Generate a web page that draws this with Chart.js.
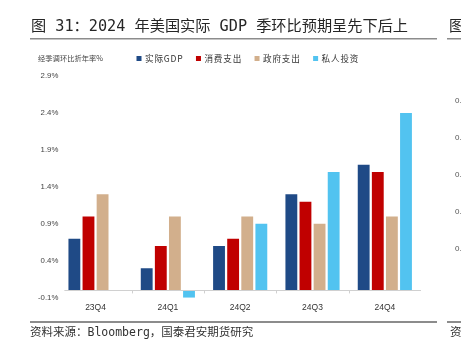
<!DOCTYPE html>
<html><head><meta charset="utf-8">
<script src="https://cdn.jsdelivr.net/npm/chart.js@4/dist/chart.umd.min.js"></script>
<style>
html,body{margin:0;padding:0;background:#fff;}
#wrap{position:relative;width:461px;height:355px;overflow:hidden;background:#fff;}
#c{position:absolute;left:0;top:0;}
</style></head><body>
<div id="wrap">
<canvas id="c" width="461" height="355"></canvas>
</div>
<script>
const categories = ['23Q4','24Q1','24Q2','24Q3','24Q4'];
const gdp = [0.7, 0.3, 0.6, 1.3, 1.7];
const consumption = [1.0, 0.6, 0.7, 1.2, 1.6];
const government = [1.3, 1.0, 1.0, 0.9, 1.0];
const investment = [null, -0.1, 0.9, 1.6, 2.4];
const seriesNames = ['实际GDP','消费支出','政府支出','私人投资'];
const yTicks = [-0.1, 0.4, 0.9, 1.4, 1.9, 2.4, 2.9];
const titleText = '图 31：2024 年美国实际 GDP 季环比预期呈先下后上';
const unitText = '经季调环比折年率%';
const sourceText = '资料来源：Bloomberg，国泰君安期货研究';

const colors = ['#1F4A86','#C00000','#D2AF8C','#52C3F0'];
const CJK = '"DejaVu Sans Mono","Noto Sans CJK SC",sans-serif';

const decor = {
  id:'decor',
  beforeDraw(chart){
    const c = chart.ctx;
    c.save();
    c.fillStyle='#fff'; c.fillRect(0,0,chart.width,chart.height);
    c.restore();
  },
  afterDraw(chart){
    const c = chart.ctx;
    const y = chart.scales.y, x = chart.scales.x;
    c.save();
    // title
    c.fillStyle='#262626';
    c.font='15.2px '+CJK;
    c.textBaseline='middle';
    c.fillText(titleText, 31, 27);
    c.fillText('图', 449, 27);
    // title underline
    c.fillStyle='#8c8c8c';
    c.fillRect(30,38,407,1.5);
    c.fillRect(447,38,20,1.5);
    // unit label
    c.fillStyle='#444';
    c.font='7.3px "Noto Sans CJK SC",sans-serif';
    c.fillText(unitText, 38, 58);
    // legend (from dataset labels/colours)
    c.font='8.6px "Noto Sans CJK SC",sans-serif';
    if ('letterSpacing' in c) c.letterSpacing = '0.8px';
    let lx = 136.5;
    chart.data.datasets.forEach(ds=>{
      c.fillStyle = ds.backgroundColor;
      c.fillRect(lx, 56, 5, 5);
      c.fillStyle = '#333';
      c.fillText(ds.label, lx+8.5, 58.5);
      lx += 8.5 + c.measureText(ds.label).width + 12.5;
    });
    if ('letterSpacing' in c) c.letterSpacing = '0px';
    // zero line
    const z = y.getPixelForValue(0);
    c.strokeStyle='#d0d0d0'; c.lineWidth=1;
    c.beginPath(); c.moveTo(x.left+5, Math.round(z)+0.5); c.lineTo(x.right, Math.round(z)+0.5); c.stroke();
    // small ticks at category boundaries
    for(let i=1;i<categories.length;i++){
      const bx = Math.round((x.getPixelForValue(i-1)+x.getPixelForValue(i))/2)+0.5;
      c.beginPath(); c.moveTo(bx, z); c.lineTo(bx, z+3); c.stroke();
    }
    // footer line
    c.fillStyle='#8c8c8c';
    c.fillRect(30,321,407,2);
    c.fillRect(447,321,20,2);
    // footer text
    c.fillStyle='#333';
    c.font='11.5px '+CJK;
    c.fillText(sourceText, 30, 333);
    c.fillText('资', 450, 333);
    // partial next chart labels
    c.fillStyle='#555';
    c.font='8px "Liberation Sans",sans-serif';
    ['0.','0.','0.','0.','0.'].forEach((t,i)=>c.fillText(t,455,101+i*37));
    c.restore();
  }
};

new Chart(document.getElementById('c'), {
  type:'bar',
  data:{
    labels:categories,
    datasets:[
      {label:seriesNames[0], data:gdp, backgroundColor:colors[0]},
      {label:seriesNames[1], data:consumption, backgroundColor:colors[1]},
      {label:seriesNames[2], data:government, backgroundColor:colors[2]},
      {label:seriesNames[3], data:investment, backgroundColor:colors[3]}
    ]
  },
  options:{
    responsive:false,
    animation:false,
    devicePixelRatio:1,
    layout:{padding:{top:76, left:37, right:40, bottom:37}},
    datasets:{bar:{categoryPercentage:0.78, barPercentage:0.84, borderWidth:0}},
    plugins:{
      title:{display:false},
      tooltip:{enabled:false},
      legend:{display:false}
    },
    scales:{
      x:{
        grid:{display:false, drawTicks:false},
        border:{display:false},
        ticks:{color:'#333', font:{size:8.5, family:'"Liberation Sans",sans-serif'}, padding:5}
      },
      y:{
        min:-0.1, max:2.9,
        afterBuildTicks(s){ s.ticks = yTicks.map(v=>({value:v})); },
        grid:{display:false, drawTicks:false},
        border:{display:false},
        ticks:{
          color:'#444', padding:1,
          font:{size:7.8, family:'"Liberation Sans",sans-serif'},
          callback:(v)=>v.toFixed(1)+'%'
        }
      }
    }
  },
  plugins:[decor]
});
</script>
</body></html>
